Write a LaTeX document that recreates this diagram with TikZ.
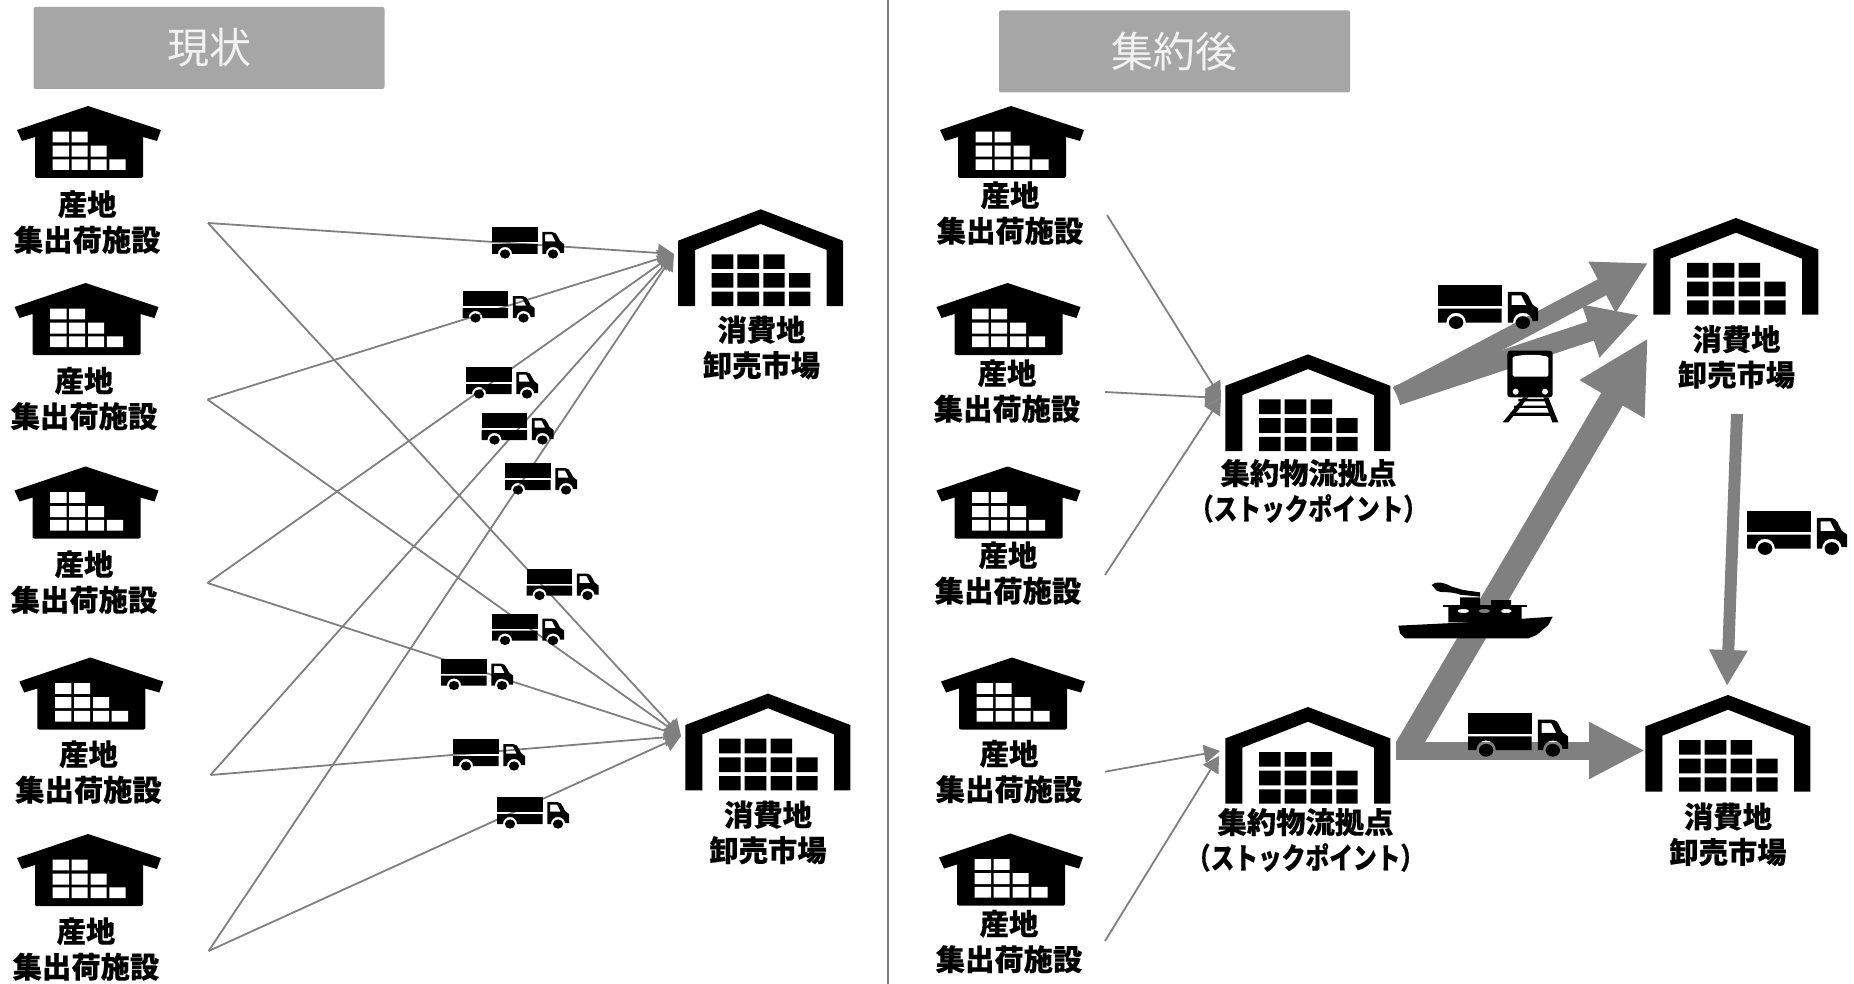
\documentclass[tikz,border=0pt]{standalone}
\usepackage{fontspec}
\usetikzlibrary{arrows.meta}
\newfontfamily\cjk[BoldFeatures={FakeBold=0.35}]{Noto Sans CJK JP}
\definecolor{linegray}{HTML}{808080}
\definecolor{boxgray}{HTML}{A6A6A6}
\tikzset{
  thin line/.style={draw=linegray,line width=1.8pt,-{Triangle[length=16pt,width=18pt]}},
  lbl/.style={font=\cjk\bfseries\fontsize{29.3}{35.5}\selectfont,align=center,inner sep=0pt,text=black},
  titlebox/.style={fill=boxgray,rounded corners=2pt,inner sep=0pt,minimum width=351pt,minimum height=82pt,
    font=\cjk\fontsize{42}{42}\selectfont,text=white!95!black},
  smallhouse/.pic={
    \fill[black,line join=round] (0,0) -- (73,24) -- (69,35) -- (55,31) -- (55,71) [rounded corners=1.5pt] -- (55,72) -- (-53,72) -- (-53,71) [sharp corners] -- (-53,31) -- (-66,35) -- (-71,24) -- cycle;
    \fill[white] (-35.3,25.7) rectangle (-19,36.3) (-16.3,25.7) rectangle (-0.3,36.3)
      (-35.3,39.7) rectangle (-19,50.7) (-16.3,39.7) rectangle (-0.3,50.7) (2.7,39.7) rectangle (18.7,50.7)
      (-35.3,53.3) rectangle (-19,64) (-16.3,53.3) rectangle (-0.3,64) (2.7,53.3) rectangle (18.7,64) (21.3,53.3) rectangle (37.7,64);
  },
  bighouse/.pic={
    \fill[black] (0,0) -- (82.3,31.4) -- (82.3,96.7) -- (66,96.7) -- (66,40.7) -- (0,14.7) -- (-65.7,40.7) -- (-65.7,96.7) -- (-82.7,96.7) -- (-82.7,31.4) -- cycle;
    \fill[black] (-49,45) rectangle (-27.4,59.7) (-23.4,45) rectangle (-1.7,59.7) (2.6,45) rectangle (24,59.7)
      (-49,63.7) rectangle (-27.4,78.4) (-23.4,63.7) rectangle (-1.7,78.4) (2.6,63.7) rectangle (24,78.4) (28.3,63.7) rectangle (49.6,78.4)
      (-49,82.4) rectangle (-27.4,96.7) (-23.4,82.4) rectangle (-1.7,96.7) (2.6,82.4) rectangle (24,96.7) (28.3,82.4) rectangle (49.6,96.7);
  },
  truck/.pic={
    \fill[black] (0,0) rectangle (45.7,15);
    \fill[black] (0,17) -- (45.7,17) -- (45.7,27) -- (20,27) .. controls (20,23) and (17,20) .. (13,20) .. controls (9,20) and (6,23) .. (6,27) -- (0,27) -- cycle;
    \fill[black,even odd rule] (50.3,5) -- (60,5) .. controls (63,5) and (65,7) .. (66,10) -- (68,14) -- (72,17) -- (72,26) -- (68,26) .. controls (68,23) and (65,20) .. (61,20) .. controls (57,20) and (54,23) .. (54,27) -- (50.3,27) -- cycle
      (53,7.5) -- (60,7.5) -- (63.5,14.5) -- (53,14.5) -- cycle;
    \fill[black] (13,27) ellipse [x radius=5.2,y radius=4.6] (61,27) ellipse [x radius=5.2,y radius=4.6];
  },
}
\begin{document}
\begin{tikzpicture}[x=1pt,y=-1pt]
\useasboundingbox (0,0) rectangle (1854,984);
\fill[white] (0,0) rectangle (1854,984);

% divider
\coordinate (divtop) at (888,0);
\coordinate (divbot) at (888,984);
\draw[draw=linegray,line width=2pt] (divtop) -- (divbot);

% titles
\node[titlebox] (title1) at (209,48) {現状};
\node[titlebox] (title2) at (1174.5,51.5) {集約後};

% left connector ends
\coordinate (s1) at (208,223);
\coordinate (s2) at (207.5,399.5);
\coordinate (s3) at (207.5,583);
\coordinate (s4) at (210.5,775);
\coordinate (s5) at (208.6,951);
\coordinate (t1) at (674,254);
\coordinate (t2) at (681,736);
\foreach \s in {s1,s2,s3,s4,s5} {
  \draw[thin line] (\s) -- (t1);
  \draw[thin line] (\s) -- (t2);
}

% right thin connectors
\coordinate (r1) at (1107,215);
\coordinate (r2) at (1105,392);
\coordinate (r3) at (1105,575);
\coordinate (r4) at (1105,771.7);
\coordinate (r5) at (1105,941);
\coordinate (hub1) at (1221,398);
\coordinate (hub2a) at (1220,751);
\coordinate (hub2b) at (1219,756);
\draw[thin line] (r1) -- (hub1);
\draw[thin line] (r2) -- (hub1);
\draw[thin line] (r3) -- (hub1);
\draw[thin line] (r4) -- (hub2a);
\draw[thin line] (r5) -- (hub2b);

% thick arrows
\coordinate (a0) at (1397,395.5);
\coordinate (a1) at (1648,263);
\coordinate (a2) at (1639,315);
\coordinate (b0) at (1407,748);
\coordinate (b1) at (1648,338);
\coordinate (c0) at (1396,750.5);
\coordinate (c1) at (1645,750.5);
\coordinate (d0) at (1737,414);
\coordinate (d1) at (1727,686);
\draw[draw=linegray,line width=18pt,-{Triangle[length=52pt,width=54pt]}] (a0) -- (a1);
\draw[draw=linegray,line width=20pt,-{Triangle[length=51pt,width=52pt]}] (a0) -- (a2);
\draw[draw=linegray,line width=25pt,-{Triangle[length=71pt,width=70pt]}] (b0) -- (b1);
\draw[draw=linegray,line width=18pt,-{Triangle[length=56pt,width=53pt]}] (c0) -- (c1);
\draw[draw=linegray,line width=12pt,-{Triangle[length=36pt,width=36pt]}] (d0) -- (d1);

% small houses
\pic at (88,106) {smallhouse};
\pic at (85.5,283) {smallhouse};
\pic at (85.5,466.5) {smallhouse};
\pic at (90.3,657.5) {smallhouse};
\pic at (88,834) {smallhouse};
\pic at (1011,106) {smallhouse};
\pic at (1007.5,283) {smallhouse};
\pic at (1007.5,466.5) {smallhouse};
\pic at (1012,657.5) {smallhouse};
\pic at (1010,833.5) {smallhouse};

% big houses
\pic at (760.7,209.3) {bighouse};
\pic at (768,693.6) {bighouse};
\pic at (1308,354.4) {bighouse};
\pic at (1308,707) {bighouse};
\pic at (1736,218) {bighouse};
\pic at (1728,695) {bighouse};

% trucks small
\pic at (492,227) {truck};
\pic at (462.5,291) {truck};
\pic at (466,367) {truck};
\pic at (481.5,413) {truck};
\pic at (505,463) {truck};
\pic at (526.5,568.5) {truck};
\pic at (492,613.5) {truck};
\pic at (441,658.5) {truck};
\pic at (453,739) {truck};
\pic at (497,797) {truck};
% trucks big
\pic[scale=1.39] at (1438,285) {truck};
\pic[scale=1.39] at (1468,712.7) {truck};
\pic[scale=1.39] at (1747,511) {truck};

% train
\begin{scope}[shift={(1380,260)},scale=1/3]
  \fill[black,rounded corners=3pt] (382,272) rectangle (518,412);
  \fill[white,rounded corners=1.5pt] (398,290) -- (430,285) -- (475,285) -- (505,290) -- (505,350) -- (398,350) -- cycle;
  \fill[white] (407,395) circle [radius=9] (495,395) circle [radius=9];
  \fill[black] (430,412) -- (368,487) -- (385,487) -- (445,412) -- cycle;
  \fill[black] (490,412) -- (517,487) -- (535,487) -- (505,412) -- cycle;
  \fill[black] (415,417) rectangle (495,424) (402,437) rectangle (505,444) (390,458) rectangle (515,468);
\end{scope}

% ship
\begin{scope}[shift={(1380,560)},scale=1/3]
  \fill[black] (55,197) -- (300,185) -- (518,170) -- (505,195) -- (470,225) -- (445,235) -- (75,235) -- (60,220) -- cycle;
  \fill[black,even odd rule] (205,140) rectangle (425,187)
     (250,153) ellipse [x radius=18,y radius=6]
     (313,153) ellipse [x radius=18,y radius=6]
     (378,153) ellipse [x radius=18,y radius=6];
  \fill[black] (190,135) rectangle (440,142);
  \fill[black] (240,112) rectangle (300,140) (333,120) rectangle (393,138);
  \fill[black] (155,75) .. controls (165,62) and (195,68) .. (215,80) -- (250,90) -- (300,97) -- (300,110) -- (240,104) .. controls (210,92) and (180,100) .. (170,92) -- cycle;
\end{scope}

% labels
\node[lbl] (l1) at (87.2,222) {産地\\集出荷施設};
\node[lbl] (l2) at (84,398.5) {産地\\集出荷施設};
\node[lbl] (l3) at (84,582) {産地\\集出荷施設};
\node[lbl] (l4) at (88.5,772) {産地\\集出荷施設};
\node[lbl] (l5) at (86,949) {産地\\集出荷施設};
\node[lbl] (r1l) at (1010,213) {産地\\集出荷施設};
\node[lbl] (r2l) at (1007,391) {産地\\集出荷施設};
\node[lbl] (r3l) at (1008,573) {産地\\集出荷施設};
\node[lbl] (r4l) at (1009,771.5) {産地\\集出荷施設};
\node[lbl] (r5l) at (1009,941.5) {産地\\集出荷施設};
\node[lbl] (m1) at (761.5,347.5) {消費地\\卸売市場};
\node[lbl] (m2) at (768,832.5) {消費地\\卸売市場};
\node[lbl] (m3) at (1736.5,357) {消費地\\卸売市場};
\node[lbl] (m4) at (1728,834.3) {消費地\\卸売市場};
\node[lbl] (h1) at (1308.5,491) {集約物流拠点\\\scalebox{0.81}[1]{（ストックポイント）}};
\node[lbl] (h2) at (1305.5,840) {集約物流拠点\\\scalebox{0.81}[1]{（ストックポイント）}};
\end{tikzpicture}
\end{document}
